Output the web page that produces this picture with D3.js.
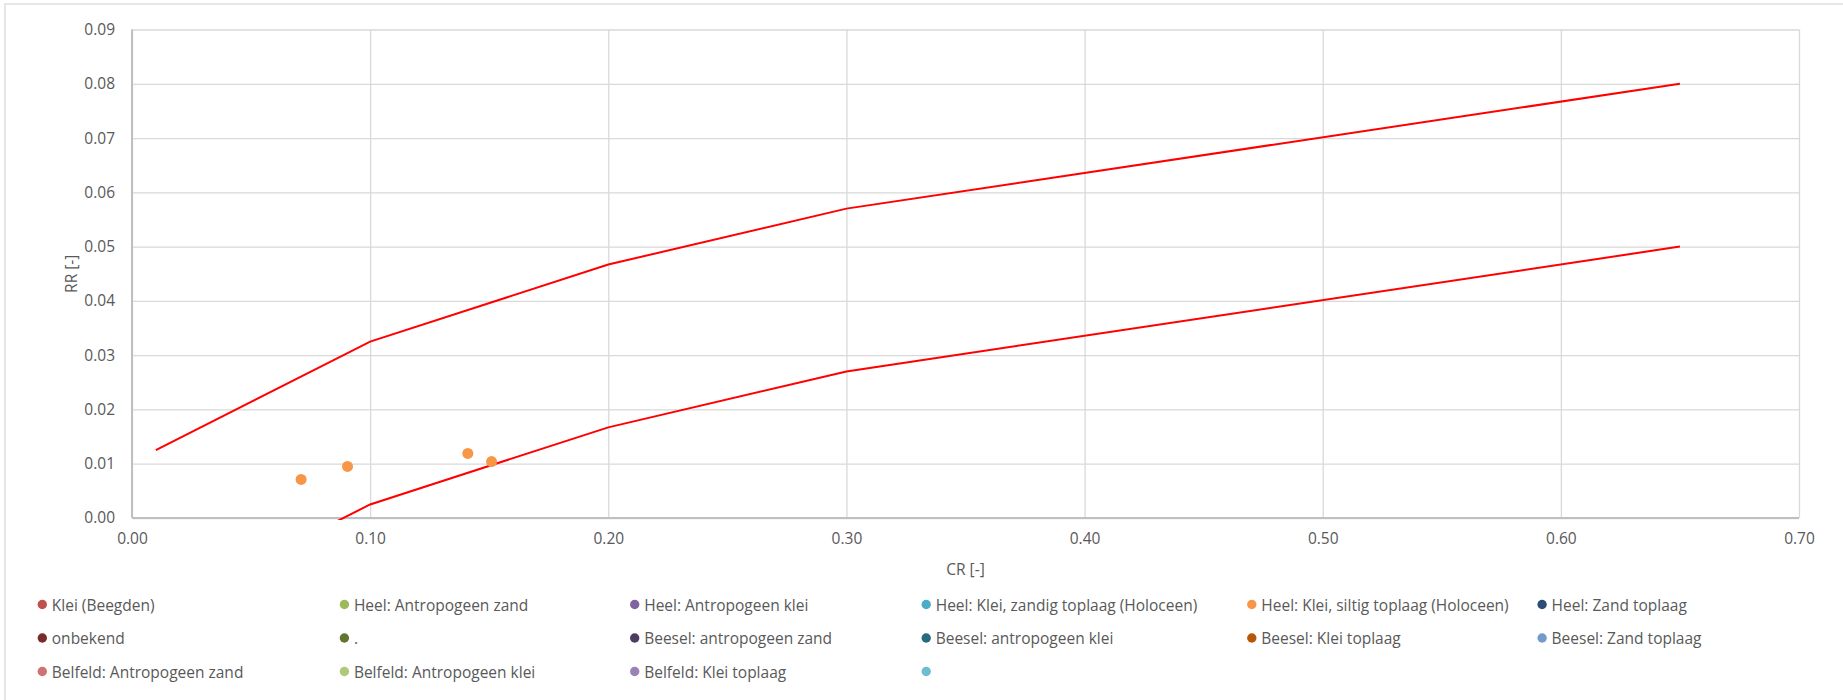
<!DOCTYPE html>
<html>
<head>
<meta charset="utf-8">
<script src="https://cdn.jsdelivr.net/npm/d3@7"></script>
<style>
    body { margin: 0; background: #fff; }
    #chart { width: 1843px; height: 700px; }
    text { font-family: "Open Sans", sans-serif; fill: #595959; }
    .grid line { stroke: #d9d9d9; stroke-width: 1.3; }
    .grid path { display: none; }
    .axis path { display: none; }
    .axis line { display: none; }
    .axis text { font-size: 15.5px; fill: #595959; }
    .legend text { font-size: 15.5px; }
</style>
</head>
<body>
<div id="chart"></div>
<script>

// axis ticks
const xTicks = [0, 0.1, 0.2, 0.3, 0.4, 0.5, 0.6, 0.7];
const yTicks = [0, 0.01, 0.02, 0.03, 0.04, 0.05, 0.06, 0.07, 0.08, 0.09];

// boundary lines (red)
const upperCR = [0.01, 0.1, 0.2, 0.3, 0.65];
const upperRR = [0.0125, 0.0325, 0.0467, 0.057, 0.080];
const lowerCR = [0.01, 0.1, 0.2, 0.3, 0.65];
const lowerRR = [-0.0175, 0.0025, 0.0167, 0.027, 0.050];

// measured points: Heel: Klei, siltig toplaag (Holoceen)
const siltCR = [0.071, 0.0905, 0.141, 0.151];
const siltRR = [0.0071, 0.0095, 0.0119, 0.0104];

// legend series
const seriesNames = [
    "Klei (Beegden)", "Heel: Antropogeen zand", "Heel: Antropogeen klei",
    "Heel: Klei, zandig toplaag (Holoceen)", "Heel: Klei, siltig toplaag (Holoceen)", "Heel: Zand toplaag",
    "onbekend", ".", "Beesel: antropogeen zand",
    "Beesel: antropogeen klei", "Beesel: Klei toplaag", "Beesel: Zand toplaag",
    "Belfeld: Antropogeen zand", "Belfeld: Antropogeen klei", "Belfeld: Klei toplaag",
    ""
];
const seriesColors = [
    "#C0504D", "#9BBB59", "#8064A2", "#4BACC6", "#F79646", "#2C4D75",
    "#772C2A", "#5F7530", "#4D3B62", "#276A7C", "#B65708", "#729ACA",
    "#CD7371", "#AFC97A", "#9983B5", "#6FBDD1"
];

let margin = {top: 29.5, right: 44, bottom: 182, left: 132};
let width = 1843 - margin.left - margin.right;
let height = 700 - margin.top - margin.bottom;

let svg = d3.select("#chart").append("svg")
    .attr("width", 1843)
    .attr("height", 700);

// chart border
svg.append("rect")
    .attr("x", 5)
    .attr("y", 4)
    .attr("width", 1900)
    .attr("height", 800)
    .style("fill", "none")
    .style("stroke", "#d9d9d9")
    .style("stroke-width", 1.3);

let g = svg.append("g")
    .attr("transform", `translate(${margin.left},${margin.top})`);

let x = d3.scaleLinear().domain([0, 0.7]).range([0, width]);
let y = d3.scaleLinear().domain([0, 0.09]).range([height, 0]);

// gridlines
g.append("g")
    .attr("class", "grid")
    .call(d3.axisLeft(y).tickValues(yTicks).tickSize(-width).tickFormat(""));

g.append("g")
    .attr("class", "grid")
    .attr("transform", `translate(0,${height})`)
    .call(d3.axisBottom(x).tickValues(xTicks).tickSize(-height).tickFormat(""));

// axis lines
g.append("line")
    .attr("x1", 0).attr("x2", 0)
    .attr("y1", 0).attr("y2", height)
    .style("stroke", "#bfbfbf")
    .style("stroke-width", 2);

g.append("line")
    .attr("x1", 0).attr("x2", width)
    .attr("y1", height).attr("y2", height)
    .style("stroke", "#bfbfbf")
    .style("stroke-width", 2);

// tick labels
g.append("g")
    .attr("class", "axis")
    .call(d3.axisLeft(y).tickValues(yTicks).tickSize(0).tickPadding(17).tickFormat(d3.format(".2f")));

g.append("g")
    .attr("class", "axis")
    .attr("transform", `translate(0,${height})`)
    .call(d3.axisBottom(x).tickValues(xTicks).tickSize(0).tickPadding(15).tickFormat(d3.format(".2f")));

// axis titles
g.append("text")
    .attr("x", width / 2)
    .attr("y", height + 51)
    .style("text-anchor", "middle")
    .style("dominant-baseline", "central")
    .style("font-size", "15.5px")
    .text("CR [-]");

g.append("text")
    .attr("transform", `translate(${70.5 - margin.left},${height / 2}) rotate(-90)`)
    .style("text-anchor", "middle")
    .style("dominant-baseline", "central")
    .style("font-size", "15.5px")
    .text("RR [-]");

// clip lines to plot area
svg.append("defs").append("clipPath")
    .attr("id", "plot-clip")
    .append("rect")
    .attr("x", 0).attr("y", -2)
    .attr("width", width).attr("height", height + 4);

let line = d3.line()
    .x(d => x(d[0]))
    .y(d => y(d[1]));

let lines = [
    d3.zip(upperCR, upperRR),
    d3.zip(lowerCR, lowerRR)
];

g.append("g")
    .attr("clip-path", "url(#plot-clip)")
    .selectAll(".bound-line")
    .data(lines)
    .enter()
    .append("path")
    .attr("class", "bound-line")
    .attr("d", line)
    .style("fill", "none")
    .style("stroke", "#FF0000")
    .style("stroke-width", 2);

g.selectAll(".silt-dot")
    .data(d3.zip(siltCR, siltRR))
    .enter()
    .append("circle")
    .attr("class", "silt-dot")
    .attr("cx", d => x(d[0]))
    .attr("cy", d => y(d[1]))
    .attr("r", 5.5)
    .style("fill", seriesColors[4]);

// legend
let legendCols = [42.3, 344.4, 634.7, 926.2, 1251.8, 1542.1];
let legendRows = [604.5, 638, 671.5];

let legend = svg.append("g")
    .attr("class", "legend")
    .selectAll(".legend-item")
    .data(seriesNames)
    .enter()
    .append("g")
    .attr("class", "legend-item")
    .attr("transform", (d, i) => `translate(${legendCols[i % 6]},${legendRows[Math.floor(i / 6)]})`);

legend.append("circle")
    .attr("r", 4.7)
    .style("fill", (d, i) => seriesColors[i]);

legend.append("text")
    .attr("x", 9.5)
    .style("dominant-baseline", "central")
    .text(d => d);

</script>
</body>
</html>
